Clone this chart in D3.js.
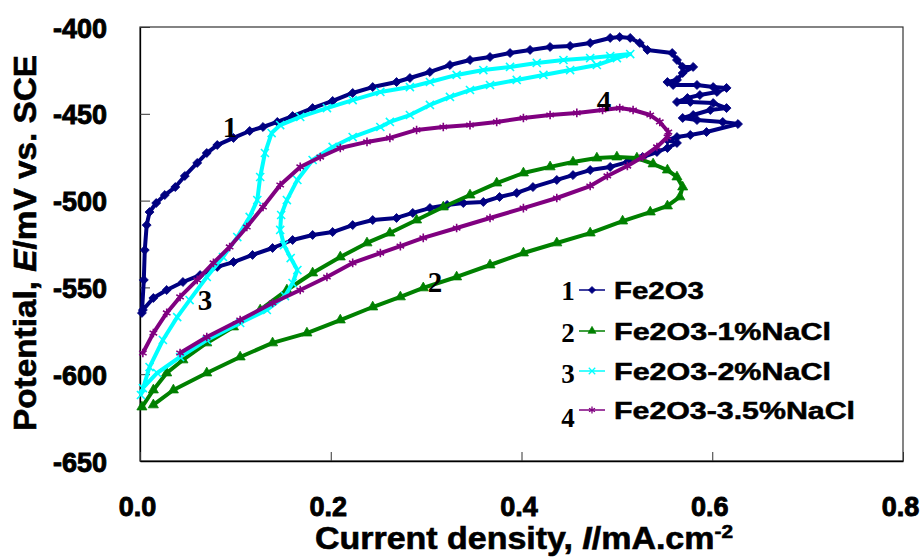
<!DOCTYPE html>
<html>
<head>
<meta charset="utf-8">
<script src="https://cdn.jsdelivr.net/npm/d3@7"></script>
<style>
  body { margin: 0; background: #fff; }
  svg { display: block; }
</style>
</head>
<body>
<svg id="chart" width="920" height="558"></svg>
<script>
// --- data: current density (mA/cm2), potential (mV vs SCE) ---
const xTicks = [0, 0.2, 0.4, 0.6, 0.8];
const yTicks = [-650, -600, -550, -500, -450, -400];
const seriesNames = ["Fe2O3", "Fe2O3-1%NaCl", "Fe2O3-2%NaCl", "Fe2O3-3.5%NaCl"];
const seriesTags = ["1", "2", "3", "4"];

const fe2o3 = [[0.002,-564.7],[0.004,-545.7],[0.005,-528.5],[0.007,-514.1],[0.010,-506.6],[0.017,-501.4],[0.026,-496.8],[0.037,-492.2],[0.047,-485.8],[0.060,-478.3],[0.070,-472.6],[0.081,-468.0],[0.098,-463.9],[0.115,-459.9],[0.129,-457.6],[0.144,-454.7],[0.160,-451.3],[0.181,-446.7],[0.202,-442.6],[0.223,-438.0],[0.244,-434.6],[0.269,-431.7],[0.283,-429.4],[0.304,-425.9],[0.325,-421.9],[0.346,-419.0],[0.367,-417.3],[0.388,-415.0],[0.409,-413.2],[0.430,-411.5],[0.451,-410.9],[0.472,-409.2],[0.493,-406.3],[0.503,-405.8],[0.514,-406.3],[0.524,-409.2],[0.532,-413.2],[0.558,-415.0],[0.563,-419.0],[0.569,-423.0],[0.580,-423.0],[0.569,-426.5],[0.563,-430.5],[0.553,-431.7],[0.559,-433.4],[0.584,-433.4],[0.601,-434.6],[0.615,-435.1],[0.605,-437.4],[0.587,-439.2],[0.574,-440.9],[0.563,-443.2],[0.577,-443.2],[0.601,-443.8],[0.615,-446.7],[0.598,-447.8],[0.580,-450.7],[0.569,-452.4],[0.584,-453.6],[0.611,-454.7],[0.627,-455.9],[0.594,-460.5],[0.577,-462.2],[0.563,-463.4],[0.553,-465.1],[0.563,-466.8],[0.553,-469.7],[0.542,-472.0],[0.527,-474.9],[0.511,-477.8],[0.493,-480.6],[0.472,-482.4],[0.454,-485.3],[0.437,-488.1],[0.412,-492.2],[0.395,-495.6],[0.377,-497.9],[0.360,-500.8],[0.339,-501.4],[0.322,-502.5],[0.304,-504.3],[0.286,-507.1],[0.269,-510.0],[0.244,-511.2],[0.223,-514.1],[0.202,-518.1],[0.181,-519.8],[0.160,-522.7],[0.139,-527.3],[0.118,-531.3],[0.098,-535.4],[0.081,-538.2],[0.063,-542.9],[0.045,-546.9],[0.028,-551.5],[0.014,-556.1],[0.003,-563.0]];

const nacl1 = [[0.002,-618.9],[0.014,-609.1],[0.028,-599.3],[0.045,-591.8],[0.070,-582.0],[0.098,-572.8],[0.126,-563.0],[0.154,-551.5],[0.181,-541.7],[0.210,-532.5],[0.238,-524.4],[0.262,-518.7],[0.290,-511.2],[0.318,-503.7],[0.346,-496.8],[0.374,-489.9],[0.402,-484.1],[0.430,-480.6],[0.454,-477.8],[0.479,-475.5],[0.500,-474.9],[0.521,-475.5],[0.538,-478.9],[0.553,-482.4],[0.563,-486.4],[0.569,-492.2],[0.566,-497.9],[0.553,-503.1],[0.535,-506.6],[0.506,-511.8],[0.472,-518.7],[0.437,-524.4],[0.402,-530.2],[0.367,-537.1],[0.332,-544.0],[0.297,-550.3],[0.273,-555.5],[0.244,-561.3],[0.210,-568.8],[0.175,-576.3],[0.139,-582.0],[0.105,-590.1],[0.070,-599.3],[0.035,-609.1],[0.014,-617.7]];

const nacl2 = [[0.001,-612.0],[0.010,-595.9],[0.024,-580.3],[0.039,-567.1],[0.052,-557.3],[0.070,-544.0],[0.087,-532.5],[0.102,-521.0],[0.115,-509.4],[0.123,-499.7],[0.126,-486.4],[0.131,-472.6],[0.138,-461.1],[0.147,-456.5],[0.168,-451.8],[0.196,-446.7],[0.223,-442.1],[0.252,-437.4],[0.283,-434.6],[0.304,-431.7],[0.332,-427.6],[0.360,-424.8],[0.388,-423.0],[0.416,-420.7],[0.444,-419.0],[0.472,-417.9],[0.493,-416.7],[0.514,-415.6],[0.500,-417.9],[0.479,-421.9],[0.451,-424.8],[0.423,-427.6],[0.395,-430.5],[0.367,-433.4],[0.346,-436.3],[0.325,-440.3],[0.304,-444.9],[0.283,-450.7],[0.262,-454.7],[0.252,-457.6],[0.223,-463.4],[0.202,-469.1],[0.181,-476.6],[0.165,-488.1],[0.154,-499.7],[0.148,-508.3],[0.147,-516.9],[0.151,-525.6],[0.158,-533.1],[0.165,-540.0],[0.160,-547.5],[0.152,-555.0],[0.133,-563.0],[0.105,-570.5],[0.070,-580.3],[0.042,-590.1],[0.018,-599.3],[0.003,-608.0]];

const nacl35 = [[0.003,-587.8],[0.014,-576.3],[0.028,-564.7],[0.042,-555.5],[0.060,-545.7],[0.077,-535.9],[0.094,-526.7],[0.112,-515.2],[0.129,-503.7],[0.147,-491.0],[0.168,-480.6],[0.189,-474.9],[0.210,-469.7],[0.238,-466.2],[0.262,-463.9],[0.290,-459.3],[0.318,-457.6],[0.346,-456.5],[0.374,-454.7],[0.402,-452.4],[0.430,-450.7],[0.458,-449.5],[0.485,-447.8],[0.503,-446.7],[0.517,-447.8],[0.535,-450.7],[0.545,-454.7],[0.554,-460.5],[0.553,-463.4],[0.542,-469.1],[0.527,-474.9],[0.511,-480.1],[0.490,-485.8],[0.472,-491.6],[0.437,-498.5],[0.402,-504.3],[0.367,-510.0],[0.332,-515.8],[0.297,-521.5],[0.273,-526.2],[0.252,-530.2],[0.223,-535.9],[0.196,-544.0],[0.168,-551.5],[0.139,-559.0],[0.105,-568.8],[0.070,-578.6],[0.042,-587.8]];

// --- styles ---
const colors = ["#000080", "#008000", "#00ffff", "#800080"];
const SANS = "'Liberation Sans', Arial, sans-serif";
const SERIF = "'Liberation Serif', 'Times New Roman', serif";

const svg = d3.select("#chart");
const x = d3.scaleLinear().domain([0, 0.8]).range([140, 903]);
const y = d3.scaleLinear().domain([-650, -400]).range([461, 27]);

// bold Excel-like text: bold face plus a thin outline
function heavy(sel, w) {
  sel.attr("font-family", SANS).attr("font-weight", "bold").attr("fill", "#000")
    .attr("stroke", "#000").attr("stroke-width", w);
}

// marker shapes per series
const markerTypes = [
  { type: d3.symbolSquare, size: 40, rot: 45, filled: true },
  { type: d3.symbolTriangle, size: 44, rot: 0, filled: true },
  { type: d3.symbolTimes || d3.symbolCross, size: 44, rot: 0, filled: false },
  { type: d3.symbolAsterisk || d3.symbolCross, size: 52, rot: 0, filled: false },
];

function drawMarker(sel, i) {
  const m = markerTypes[i];
  sel.attr("d", d3.symbol().type(m.type).size(m.size)())
    .attr("fill", m.filled ? colors[i] : "none")
    .attr("stroke", colors[i])
    .attr("stroke-width", m.filled ? 0.8 : 1.6);
}

// --- frame and axes ---
svg.append("rect").attr("x", 140).attr("y", 27).attr("width", 763).attr("height", 434)
  .attr("fill", "#fff").attr("stroke", "#333").attr("stroke-width", 1.2);

const yAxis = svg.append("g").attr("transform", "translate(140,0)")
  .call(d3.axisLeft(y).tickValues(yTicks).tickSizeInner(-10).tickSizeOuter(0).tickPadding(33).tickFormat((d) => String(d)));
const xAxis = svg.append("g").attr("transform", "translate(0,461)")
  .call(d3.axisBottom(x).tickValues(xTicks).tickSizeInner(-9).tickSizeOuter(0).tickPadding(36).tickFormat(d3.format(".1f")));

[yAxis, xAxis].forEach((ax) => {
  ax.select(".domain").attr("stroke", "#000").attr("stroke-width", 1.3);
  ax.selectAll(".tick line").attr("stroke", "#333").attr("stroke-width", 1);
  ax.selectAll(".tick text").call(heavy, 0.9).attr("font-size", 27);
});
yAxis.selectAll(".tick text").attr("dy", "0.37em");
xAxis.selectAll(".tick text").attr("x", -3);

// --- series ---
const allSeries = [fe2o3, nacl1, nacl2, nacl35];
const line = d3.line().x((d) => x(d[0])).y((d) => y(d[1]));

allSeries.forEach((data, i) => {
  const g = svg.append("g");
  g.append("path").datum(data).attr("d", line)
    .attr("fill", "none").attr("stroke", colors[i]).attr("stroke-width", 4)
    .attr("stroke-linejoin", "round");
  g.selectAll("path.mk").data(data).join("path").attr("class", "mk")
    .call(drawMarker, i)
    .attr("transform", (d) => `translate(${x(d[0])},${y(d[1])}) rotate(${markerTypes[i].rot})`);
});

// --- curve number labels inside plot ---
const tagPos = [[230, 137], [435, 292], [205, 310], [604, 111]];
seriesTags.forEach((t, i) => {
  svg.append("text").attr("x", tagPos[i][0]).attr("y", tagPos[i][1])
    .attr("text-anchor", "middle").attr("font-family", SERIF).attr("font-weight", "bold")
    .attr("font-size", 29).attr("fill", "#000").text(t);
});

// --- legend ---
const legRows = [299, 340, 380, 419];
const legNumBase = [300, 342, 383, 427];
const legWidths = [90, 217, 217, 241];
seriesNames.forEach((name, i) => {
  const cy = legRows[i] - 9;
  svg.append("text").attr("x", 568).attr("y", legNumBase[i]).attr("text-anchor", "middle")
    .attr("font-family", SERIF).attr("font-weight", "bold").attr("font-size", 27)
    .attr("fill", "#000").text(seriesTags[i]);
  svg.append("line").attr("x1", 579).attr("x2", 605).attr("y1", cy).attr("y2", cy)
    .attr("stroke", colors[i]).attr("stroke-width", 1.5);
  svg.append("path").call(drawMarker, i)
    .attr("transform", `translate(592,${cy}) rotate(${markerTypes[i].rot}) scale(0.8)`);
  svg.append("text").attr("x", 614).attr("y", legRows[i]).call(heavy, 0.5)
    .attr("font-size", 23)
    .attr("textLength", legWidths[i]).attr("lengthAdjust", "spacingAndGlyphs")
    .text(name);
});

// --- axis titles ---
const yTitle = svg.append("text").call(heavy, 0.6)
  .attr("transform", "translate(36,243) rotate(-90)")
  .attr("text-anchor", "middle").attr("font-size", 31)
  .attr("textLength", 376).attr("lengthAdjust", "spacingAndGlyphs");
yTitle.append("tspan").text("Potential, ");
yTitle.append("tspan").attr("font-style", "italic").text("E");
yTitle.append("tspan").text("/mV vs. SCE");

const xTitle = svg.append("text").call(heavy, 0.6)
  .attr("x", 524).attr("y", 549)
  .attr("text-anchor", "middle").attr("font-size", 31)
  .attr("textLength", 418).attr("lengthAdjust", "spacingAndGlyphs");
xTitle.append("tspan").text("Current density, ");
xTitle.append("tspan").attr("font-style", "italic").text("I");
xTitle.append("tspan").text("/mA.cm");
xTitle.append("tspan").attr("dy", -11).attr("font-size", 19).text("-2");
</script>
</body>
</html>
